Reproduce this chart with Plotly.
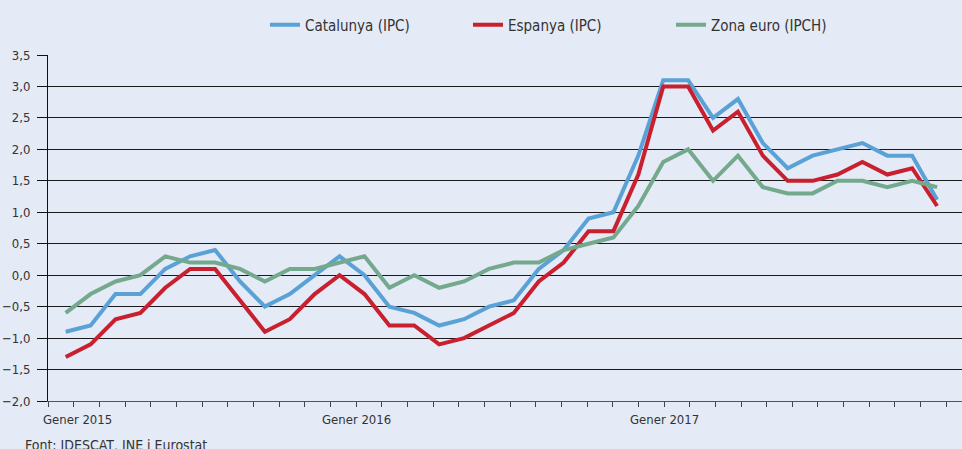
import plotly.graph_objects as go

# Monthly inflation, Jan 2015 - Dec 2017 (36 months)
months = list(range(36))
catalunya = [-0.9, -0.8, -0.3, -0.3, 0.1, 0.3, 0.4, -0.1, -0.5, -0.3, 0.0, 0.3,
             0.0, -0.5, -0.6, -0.8, -0.7, -0.5, -0.4, 0.1, 0.4, 0.9, 1.0, 1.9,
             3.1, 3.1, 2.5, 2.8, 2.1, 1.7, 1.9, 2.0, 2.1, 1.9, 1.9, 1.2]
espanya = [-1.3, -1.1, -0.7, -0.6, -0.2, 0.1, 0.1, -0.4, -0.9, -0.7, -0.3, 0.0,
           -0.3, -0.8, -0.8, -1.1, -1.0, -0.8, -0.6, -0.1, 0.2, 0.7, 0.7, 1.6,
           3.0, 3.0, 2.3, 2.6, 1.9, 1.5, 1.5, 1.6, 1.8, 1.6, 1.7, 1.1]
zona_euro = [-0.6, -0.3, -0.1, 0.0, 0.3, 0.2, 0.2, 0.1, -0.1, 0.1, 0.1, 0.2,
             0.3, -0.2, 0.0, -0.2, -0.1, 0.1, 0.2, 0.2, 0.4, 0.5, 0.6, 1.1,
             1.8, 2.0, 1.5, 1.9, 1.4, 1.3, 1.3, 1.5, 1.5, 1.4, 1.5, 1.4]
series_names = ["Catalunya (IPC)", "Espanya (IPC)", "Zona euro (IPCH)"]
year_labels = ["Gener 2015", "Gener 2016", "Gener 2017"]
source_text = "Font: IDESCAT, INE i Eurostat"

colors = ["#5aa2d6", "#c8202f", "#74a98d"]
bg = "#e4eaf6"
font_family = "Liberation Sans Narrow, DejaVu Sans Condensed, Arial Narrow, sans-serif"

fig = go.Figure()
for name, vals, col in zip(series_names, [catalunya, espanya, zona_euro], colors):
    fig.add_trace(go.Scatter(x=months, y=vals, mode="lines", name=name,
                             line=dict(color=col, width=4)))

# axis geometry (in month-index units)
x0 = -0.711
step = 1.0309
minor_ticks = [x0 + step * k for k in range(40)]
major_ticks = [x0, x0 + step * 12, x0 + step * 24]
label_pos = [0.454, 11.66, 24.07]

fig.update_layout(
    width=962, height=449,
    margin=dict(l=48, r=0, t=55, b=48),
    paper_bgcolor=bg, plot_bgcolor=bg,
    separators=", ",
    font=dict(family=font_family, size=14, color="#333333"),
    showlegend=True,
    legend=dict(orientation="h", x=0.2374, xanchor="left", y=1.087, yanchor="middle",
                font=dict(size=15, color="#333333"), bgcolor="rgba(0,0,0,0)",
                itemwidth=30, tracegroupgap=0,
                entrywidth=158, entrywidthmode="pixels"),
    xaxis=dict(range=[x0, 36.0], showgrid=False, zeroline=False,
               showline=True, linecolor="#555555", linewidth=1,
               tickmode="array", tickvals=major_ticks, ticktext=["", "", ""],
               ticks="outside", ticklen=9, tickcolor="#333333", tickwidth=1,
               minor=dict(tickmode="array", tickvals=minor_ticks, ticks="outside",
                          ticklen=5, tickcolor="#444444", showgrid=False)),
    yaxis=dict(range=[-2.0, 3.5], dtick=0.5, tick0=-2.0, tickformat=".1f",
               showgrid=True, gridcolor="#1a1a1a", gridwidth=1,
               zeroline=False, showline=True, linecolor="#111111", linewidth=1,
               ticks="outside", ticklen=10, tickcolor="#111111",
               tickfont=dict(size=13, color="#333333"), ticklabelstandoff=4),
)

for txt, xp in zip(year_labels, label_pos):
    fig.add_annotation(x=xp, xref="x", y=-0.053, yref="paper", text=txt,
                       showarrow=False, xanchor="center", yanchor="middle",
                       font=dict(size=13, color="#333333"))

fig.add_annotation(x=-0.0277, xref="paper", y=-0.128, yref="paper", text=source_text,
                   showarrow=False, xanchor="left", yanchor="middle",
                   font=dict(size=14, color="#333333"))

fig.write_html("out.html", config={"displayModeBar": False},
               post_script="document.body.style.margin='0';document.body.style.padding='0';")
